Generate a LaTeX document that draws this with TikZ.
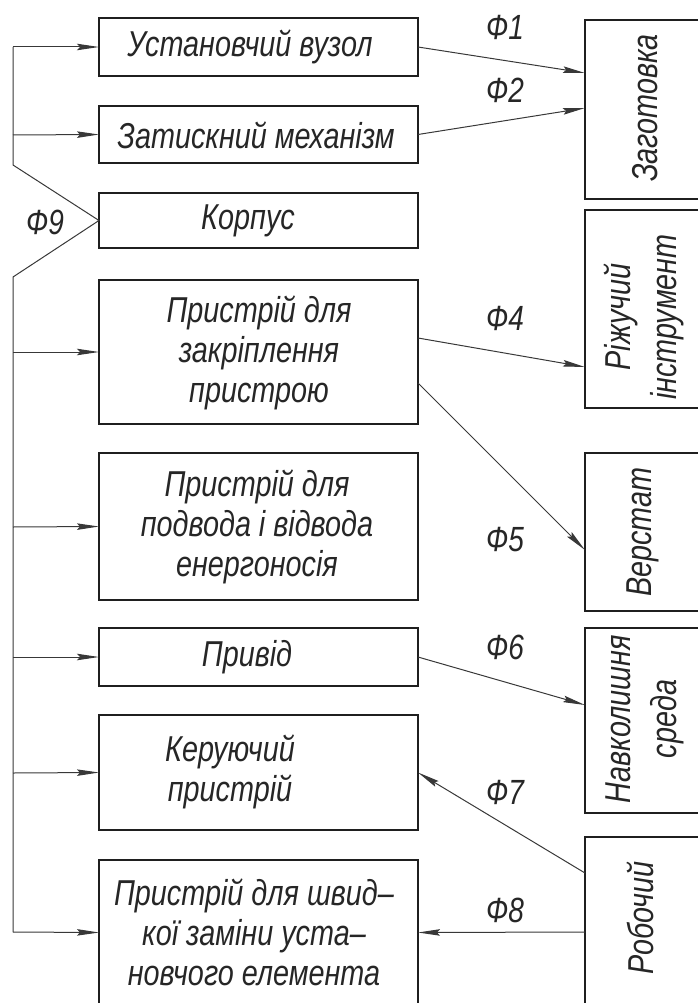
\documentclass[tikz,border=0pt]{standalone}
\usepackage{fontspec}
\newfontfamily\gost[FakeStretch=0.8]{Liberation Sans}
\usetikzlibrary{arrows.meta,calc}
\begin{document}
\begin{tikzpicture}[x=1pt,y=-1pt,
  box/.style={draw=black!88, line width=2.8pt, inner sep=0pt, outer sep=0pt, anchor=north west},
  txt/.style={font=\gost\itshape\fontsize{36}{40}\selectfont, text=black!85, align=center, inner sep=0pt},
  txtr/.style={txt, font=\gost\itshape\fontsize{36}{46}\selectfont, rotate=90},
  phi/.style={font=\gost\itshape\fontsize{35}{40}\selectfont, text=black!85, inner sep=0pt},
  con/.style={draw=black!78, line width=1pt},
  arr/.style={con, -{Stealth[length=22pt,width=6.5pt,inset=3pt]}},
]
\useasboundingbox (0,0) rectangle (698,1003);
\clip (0,0) rectangle (698,1003);

% left boxes
\node[box, minimum width=319pt, minimum height=58pt] (b1) at (99,18) {};
\node[box, minimum width=319pt, minimum height=57pt] (b2) at (99,106) {};
\node[box, minimum width=319pt, minimum height=55pt] (b3) at (99,193) {};
\node[box, minimum width=319pt, minimum height=144pt] (b4) at (99,280) {};
\node[box, minimum width=319pt, minimum height=147pt] (b5) at (99,453) {};
\node[box, minimum width=319pt, minimum height=58pt] (b6) at (99,628) {};
\node[box, minimum width=319pt, minimum height=115pt] (b7) at (99,715) {};
\node[box, minimum width=319pt, minimum height=145pt] (b8) at (99,860) {};

% right boxes
\node[box, minimum width=120pt, minimum height=179pt] (zag) at (585,20) {};
\node[box, minimum width=120pt, minimum height=198pt] (riz) at (585,210) {};
\node[box, minimum width=120pt, minimum height=158pt] (ver) at (585,453) {};
\node[box, minimum width=120pt, minimum height=185pt] (nav) at (585,628) {};
\node[box, minimum width=120pt, minimum height=180pt] (rob) at (585,837) {};

% texts
\node[txt] (t1) at (250,47) {Установчий вузол};
\node[txt] (t2) at (256,135) {Затискний механізм};
\node[txt] (t3) at (248,221) {Корпус};
\node[txt] (t4) at (259,353) {Пристрій для\\закріплення\\пристрою};
\node[txt] (t5) at (257,527) {Пристрій для\\подвода і відвода\\енергоносія};
\node[txt] (t6) at (247,657) {Привід};
\node[txt, text width=160pt] (t7) at (230,772) {Керуючий\\пристрій};
\node[txt] (t8) at (254,932) {Пристрій для швид–\\кої заміни уста–\\новчого елемента};

\node[txtr] (l1) at (645,108) {Заготовка};
\node[txtr] (l2) at (644,317) {Ріжучий\\інструмент};
\node[txtr] (l3) at (643,532) {Верстат};
\node[txtr] (l4) at (645,719) {Навколишня\\среда};
\node[txtr] (l5) at (640,918) {Робочий};

\node[phi] (f1) at (505,27) {Ф1};
\node[phi] (f2) at (505,90) {Ф2};
\node[phi] (f4) at (505,318) {Ф4};
\node[phi] (f5) at (505,540) {Ф5};
\node[phi] (f6) at (505,647) {Ф6};
\node[phi] (f7) at (505,792) {Ф7};
\node[phi] (f8) at (505,910) {Ф8};
\node[phi] (f9) at (45,222) {Ф9};

% left bus
\coordinate (v1) at (13,47);
\coordinate (v2) at (13,135);
\coordinate (v3) at (13,165);
\coordinate (v4) at (13,277);
\coordinate (v5) at (13,352);
\coordinate (v6) at (13,527);
\coordinate (v7) at (13,657);
\coordinate (v8) at (13,773);
\coordinate (v9) at (13,932);
\draw[con] (v1) -- (v3) -- (b3.west) -- (v4) -- (v9);
\draw[arr] (v1) -- (b1.west);
\draw[arr] (v2) -- (b2.west);
\draw[arr] (v5) -- (b4.west);
\draw[arr] (v6) -- (b5.west);
\draw[arr] (v7) -- (b6.west);
\draw[arr] (v8) -- (b7.west);
\draw[arr] (v9) -- (b8.west);

% right connectors
\draw[arr] (b1.east) -- ($(zag.north west)+(0,53)$);
\draw[arr] (b2.east) -- ($(zag.north west)+(0,88)$);
\draw[arr] ($(b4.north east)+(0,58)$) -- ($(riz.north west)+(0,157)$);
\draw[arr] ($(b4.north east)+(0,103)$) -- ($(ver.north west)+(0,97)$);
\draw[arr] (b6.east) -- ($(nav.north west)+(0,77)$);
\draw[arr] ($(rob.north west)+(0,36)$) -- (b7.east);
\draw[arr] ($(rob.north west)+(0,95)$) -- (b8.east);
\end{tikzpicture}
\end{document}
